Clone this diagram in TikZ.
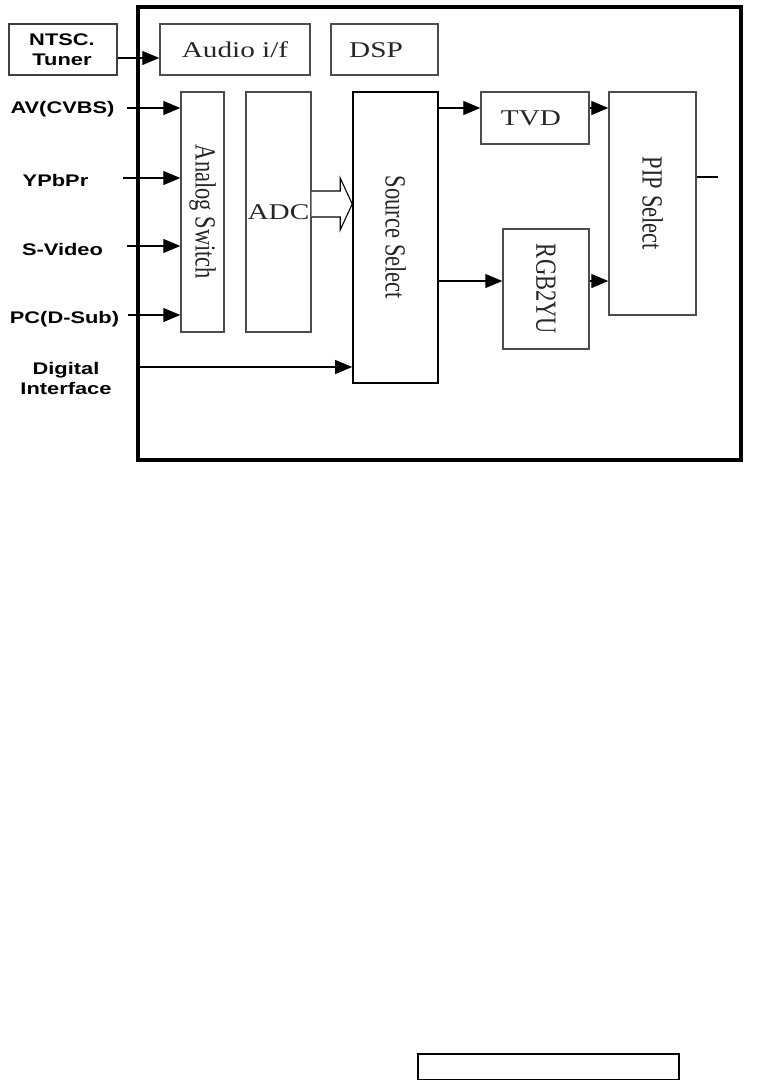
\documentclass[tikz,border=0pt]{standalone}
\usepackage{fontspec}
\usepackage{graphicx}
\setmainfont{Liberation Serif}
\newfontfamily\labfont{Liberation Sans}
\usetikzlibrary{arrows.meta,calc}
\newcommand\hstr[1]{\scalebox{1.3}[1]{#1}}
\newcommand\vrot[1]{\rotatebox{-90}{\scalebox{1}[1.3]{#1}}}
\tikzset{
  blk/.style={draw=black!70, line width=1.4pt, inner sep=0pt, text=black!85,
              font=\fontsize{22.5}{24}\selectfont},
  lbl/.style={inner sep=0pt, align=center, text=black,
              font=\labfont\bfseries\fontsize{16.8}{20}\selectfont},
  arr/.style={line width=1.1pt, -{Triangle[length=17pt,width=14pt]}},
  ln/.style={line width=1.1pt}
}
\begin{document}
\begin{tikzpicture}[x=1pt,y=-1pt]
\useasboundingbox (0,0) rectangle (757,1081);
\fill[white] (0,0) rectangle (757,1081);
% outer frame
\draw[line width=3.5pt] (138,7) rectangle (741,460);
% blocks
\node[blk, minimum width=108pt, minimum height=51pt, draw=black!75, line width=1.3pt] (ntsc) at (63,49.5) {};
\node[lbl] (ntsct) at (62,50) {\hstr{NTSC.}\\\hstr{Tuner}};
\node[blk, minimum width=150pt, minimum height=51pt] (audio) at (235,49.5) {\hstr{Audio i/f}};
\node[blk, minimum width=107pt, minimum height=51pt] (dsp) at (384.5,49.5) {};
\node[inner sep=0pt, text=black!85, font=\fontsize{22.5}{24}\selectfont] (dspt) at (376,50) {\hstr{DSP}};
\node[blk, minimum width=43pt, minimum height=240pt] (sw) at (202.5,212) {\vrot{Analog Switch}};
\node[blk, minimum width=65pt, minimum height=240pt] (adc) at (278.5,212) {\hstr{ADC}};
\node[blk, draw=black, line width=1.6pt, minimum width=85pt, minimum height=291pt] (src) at (395.5,237.5) {\vrot{Source Select}};
\node[blk, minimum width=108pt, minimum height=52pt] (tvd) at (535,118) {};
\node[inner sep=0pt, text=black!85, font=\fontsize{22.5}{24}\selectfont] (tvdt) at (531,118) {\hstr{TVD}};
\node[blk, minimum width=86pt, minimum height=120pt] (rgb) at (546,289) {\vrot{RGB2YU}};
\node[blk, minimum width=87pt, minimum height=223pt] (pip) at (652.5,203.5) {\vrot{PIP Select}};
% input labels
\node[lbl] (lav) at (62.5,109) {\hstr{AV(CVBS)}};
\node[lbl] (lypb) at (55.5,180) {\hstr{YPbPr}};
\node[lbl] (lsv) at (62.5,249) {\hstr{S-Video}};
\node[lbl] (lpc) at (64.5,319) {\hstr{PC(D-Sub)}};
\node[lbl] (ldig) at (66,378) {\hstr{Digital}\\\hstr{Interface}};
% input arrow start points
\coordinate (iav) at (127,108);
\coordinate (iypb) at (123,178);
\coordinate (isv) at (127,246);
\coordinate (ipc) at (128,315);
\coordinate (idig) at (140,367);
\coordinate (pipout) at (718,177);
% connectors
\draw[arr] ([yshift=-8.5pt]ntsc.east) -- ([yshift=-8.5pt]audio.west);
\draw[arr] (iav) -- (iav -| sw.west);
\draw[arr] (iypb) -- (iypb -| sw.west);
\draw[arr] (isv) -- (isv -| sw.west);
\draw[arr] (ipc) -- (ipc -| sw.west);
\draw[arr] (idig) -- (idig -| src.west);
\draw[arr] (src.east |- 0,108) -- (tvd.west |- 0,108);
\draw[arr] (tvd.east |- 0,108) -- (pip.west |- 0,108);
\draw[arr] (src.east |- 0,281) -- (rgb.west |- 0,281);
\draw[arr] (rgb.east |- 0,281) -- (pip.west |- 0,281);
\draw[ln] (pip.east |- pipout) -- (pipout);
% hollow bus arrow ADC -> Source Select
\draw[line width=1.1pt, fill=white, line join=miter]
  (adc.east |- 0,191) -- ($(src.west |- 0,191)+(-12,0)$) -- ($(src.west |- 0,178)+(-12,0)$)
  -- (src.west |- 0,204) -- ($(src.west |- 0,230)+(-12,0)$) -- ($(src.west |- 0,217)+(-12,0)$)
  -- (adc.east |- 0,217);
% bottom empty box
\draw[line width=1.4pt] (418,1054) rectangle (679,1079.3);
\end{tikzpicture}
\end{document}
